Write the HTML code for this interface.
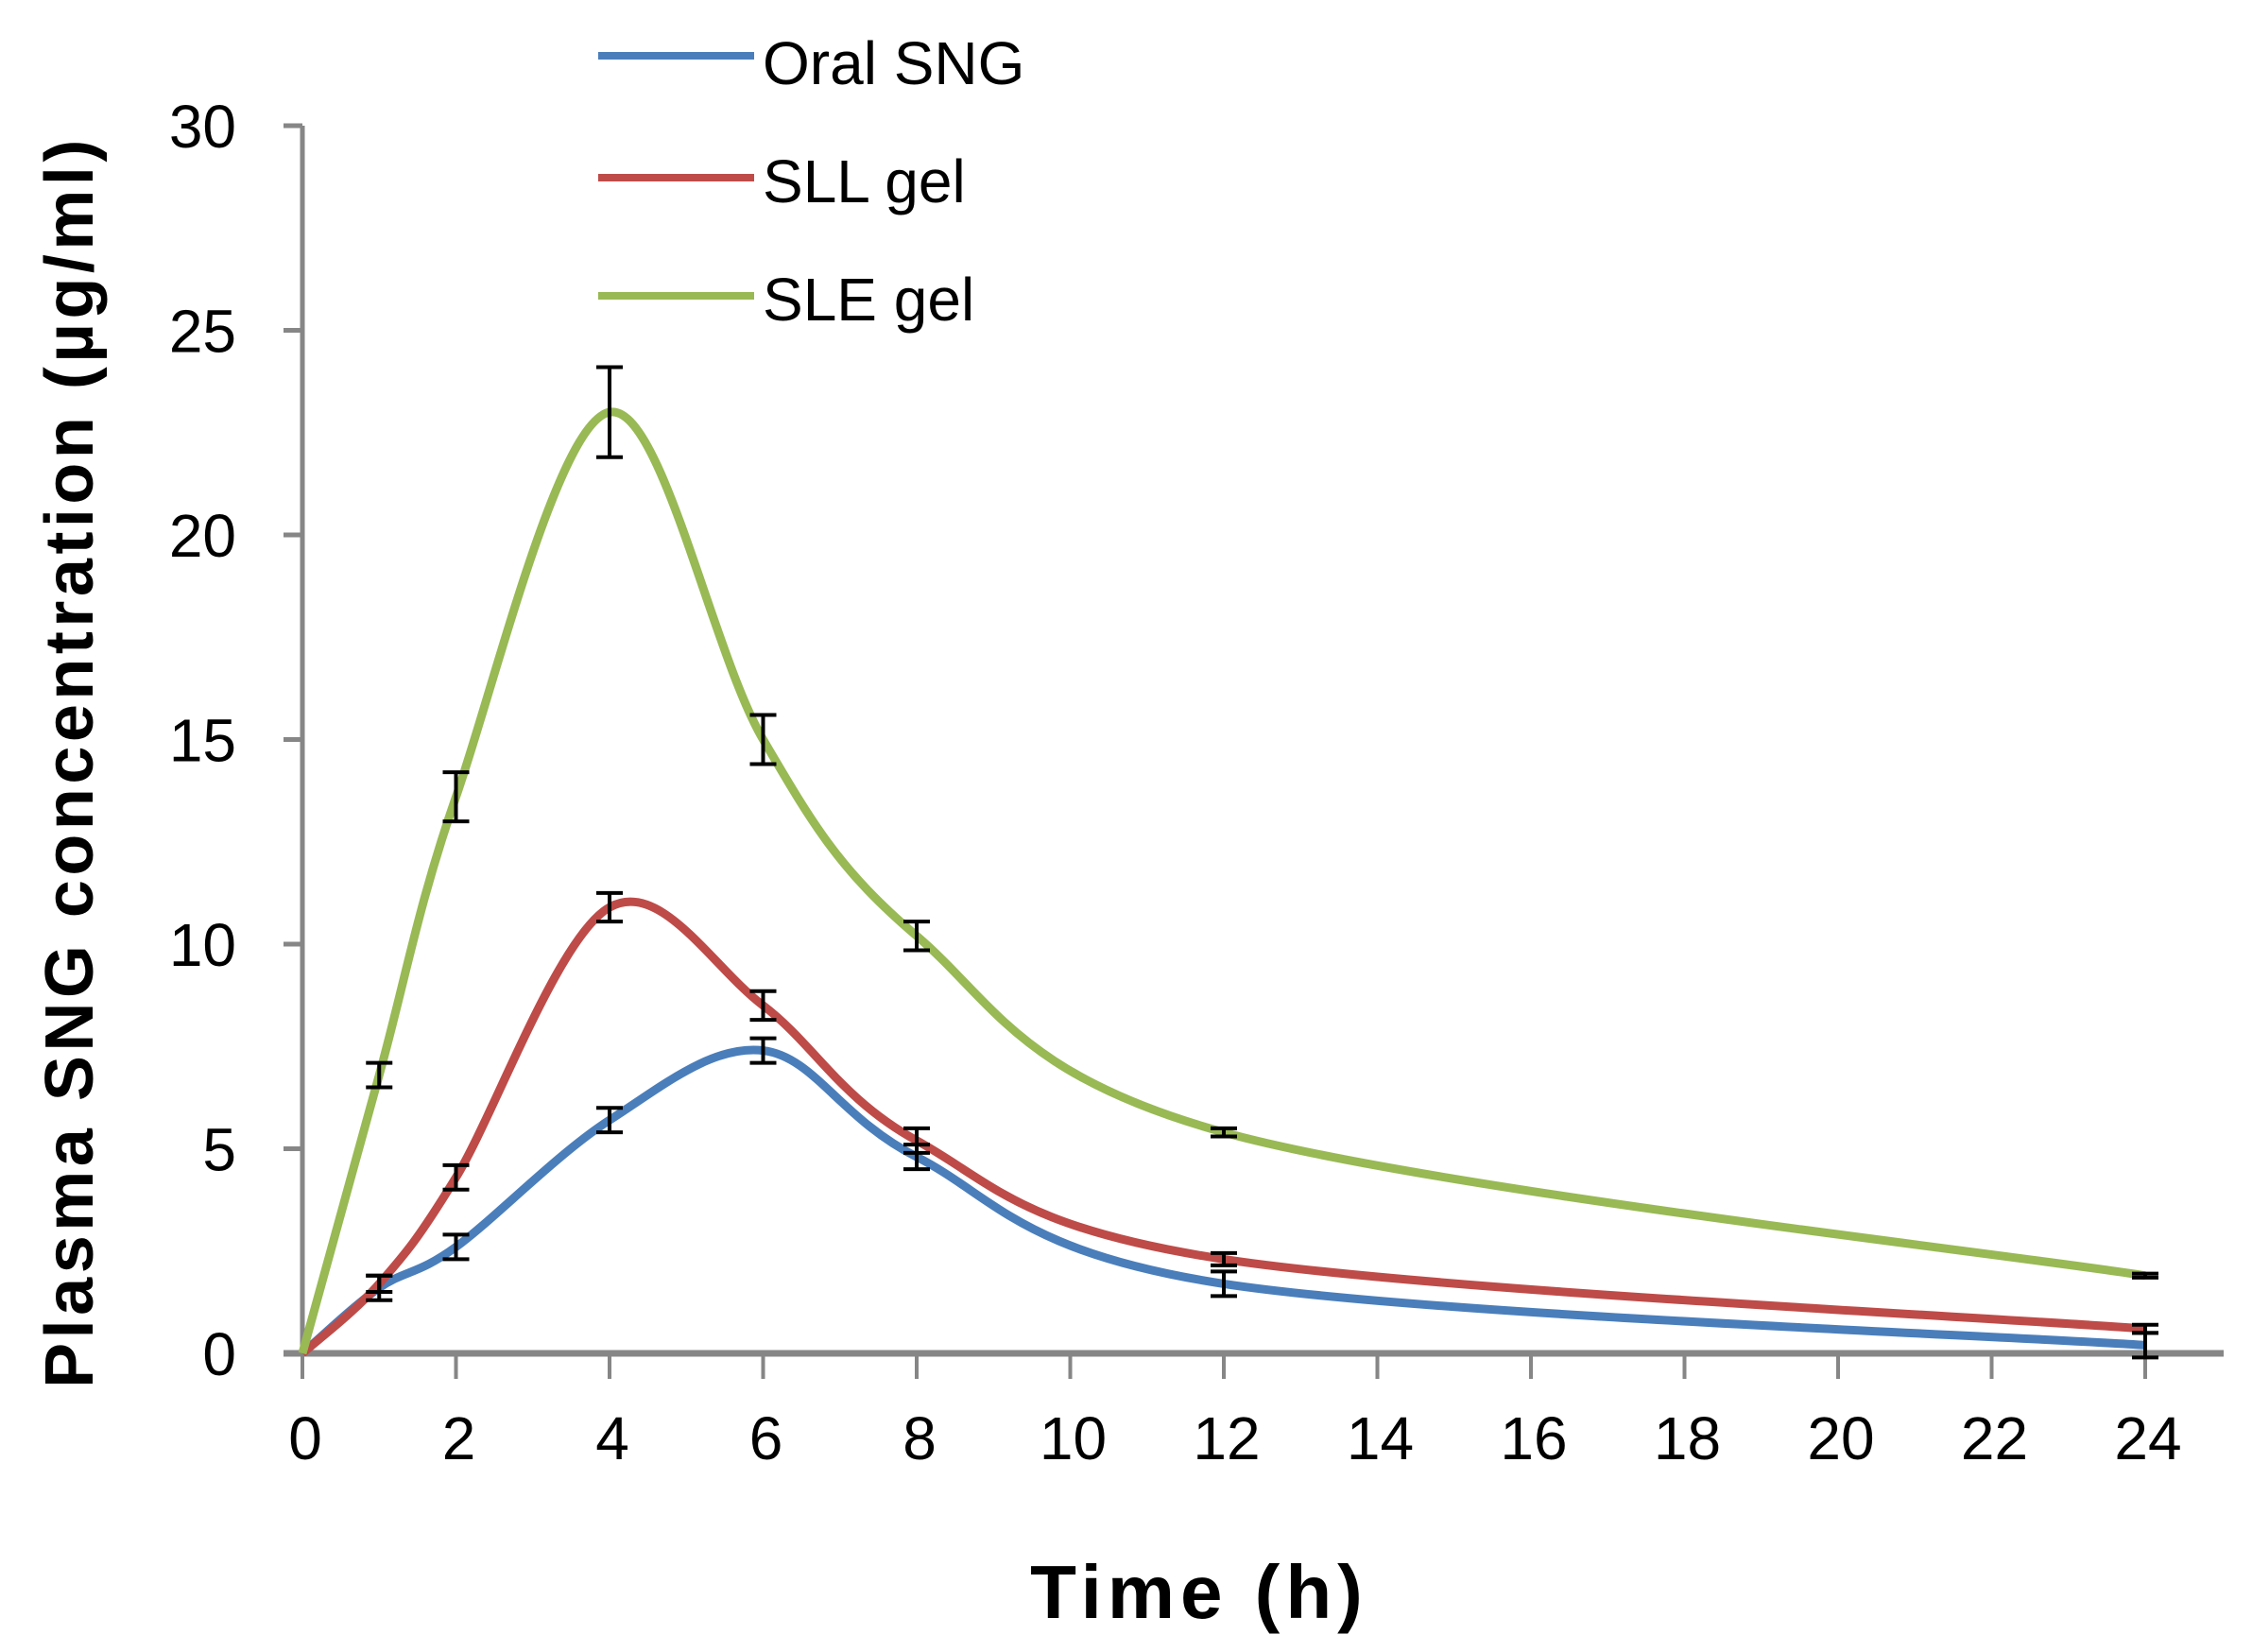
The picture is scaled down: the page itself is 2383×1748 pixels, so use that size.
<!DOCTYPE html>
<html><head><meta charset="utf-8"><style>
html,body{margin:0;padding:0;background:#fff;}
svg{display:block;}
text{font-family:"Liberation Sans Narrow","Liberation Sans",sans-serif;}
</style></head><body>
<svg id="chart" width="2383" height="1748" viewBox="0 0 2383 1748" xmlns="http://www.w3.org/2000/svg">
<g id="axes"></g>
<g id="series"></g>
<g id="errs"></g>
<text transform="translate(98,806) rotate(-90)" text-anchor="middle" font-size="72" font-weight="bold" fill="#000" letter-spacing="4.5" style="font-family:'Liberation Sans',sans-serif">Plasma SNG concentration (µg/ml)</text>
<text x="1269" y="1712" text-anchor="middle" font-size="80" font-weight="bold" fill="#000" letter-spacing="6" style="font-family:'Liberation Sans',sans-serif">Time (h)</text>
<g>
<line x1="633" y1="59" x2="798" y2="59" stroke="#4a7ebb" stroke-width="8"/>
<text x="807" y="89" font-size="64" fill="#000">Oral SNG</text>
<line x1="633" y1="188" x2="798" y2="188" stroke="#be4b48" stroke-width="8"/>
<text x="807" y="214" font-size="64" fill="#000">SLL gel</text>
<line x1="633" y1="313" x2="798" y2="313" stroke="#98b954" stroke-width="8"/>
<text x="807" y="339" font-size="64" fill="#000">SLE gel</text>
</g>
</svg>
<script>
const times=[0,1,2,4,6,8,12,24];
const oral=[0,1.6,2.6,5.7,7.4,4.8,1.7,0.2];
const oralErr=[0,0.3,0.3,0.3,0.3,0.3,0.3,0.3];
const sll=[0,1.7,4.3,10.9,8.5,5.2,2.3,0.6];
const sllErr=[0,0.2,0.3,0.35,0.35,0.3,0.15,0.1];
const sle=[0,6.8,13.6,23.0,15.0,10.2,5.4,1.9];
const sleErr=[0,0.3,0.6,1.1,0.6,0.35,0.1,0.05];
const yTicks=[0,5,10,15,20,25,30];
const xTicks=[0,2,4,6,8,10,12,14,16,18,20,22,24];
const X0=320,X1=2270,Y0=1432,Y1=133;
function sx(t){return X0+(X1-X0)*t/24;}
function sy(v){return Y0-(Y0-Y1)*v/30;}
const NS="http://www.w3.org/2000/svg";
function mk(tag,attrs,parent){const e=document.createElementNS(NS,tag);for(const k in attrs)e.setAttribute(k,attrs[k]);parent.appendChild(e);return e;}
const axes=document.getElementById('axes');
let yl=mk('line',{x1:X0,y1:Y1,x2:X0,y2:Y0,stroke:'#868686','stroke-width':5},axes);


let xl=mk('line',{x1:X0-20,y1:Y0,x2:2353,y2:Y0,stroke:'#868686','stroke-width':7},axes);


yTicks.forEach(v=>{
 let t=mk('line',{x1:X0-20,y1:sy(v),x2:X0,y2:sy(v),stroke:'#868686','stroke-width':5},axes);
 
 
 let l=mk('text',{x:250,y:sy(v)+23,'text-anchor':'end','font-size':64,fill:'#000'},axes);
 l.textContent=v;
 
 
});
xTicks.forEach(v=>{
 let t=mk('line',{x1:sx(v),y1:Y0,x2:sx(v),y2:Y0+27,stroke:'#868686','stroke-width':4},axes);
 
 
 let l=mk('text',{x:sx(v)+3,y:1544,'text-anchor':'middle','font-size':64,fill:'#000'},axes);
 l.textContent=v;
 
 
});
function smooth(vals){
 const p=times.map((t,i)=>[sx(t),sy(vals[i])]);
 let d='M'+p[0][0]+','+p[0][1];
 for(let i=0;i<p.length-1;i++){
  const p0=p[i-1]||p[i],p1=p[i],p2=p[i+1],p3=p[i+2]||p[i+1];
  const k=1/6;
  const c1=[p1[0]+(p2[0]-p0[0])*k,p1[1]+(p2[1]-p0[1])*k];
  const c2=[p2[0]-(p3[0]-p1[0])*k,p2[1]-(p3[1]-p1[1])*k];
  d+=' C'+c1[0]+','+c1[1]+' '+c2[0]+','+c2[1]+' '+p2[0]+','+p2[1];
 }
 return d;
}
const ser=document.getElementById('series');
const errs=document.getElementById('errs');
[['oral',oral,oralErr,'#4a7ebb'],['sll',sll,sllErr,'#be4b48'],['sle',sle,sleErr,'#98b954']].forEach(([n,v,e,c])=>{
 let p=mk('path',{d:smooth(v),fill:'none',stroke:c,'stroke-width':9,'stroke-linejoin':'round'},ser);
 
 
 times.forEach((t,i)=>{
  if(i===0)return;
  const x=sx(t),a=sy(v[i]+e[i]),b=sy(v[i]-e[i]);
  let g=mk('path',{d:`M${x},${a}V${b}M${x-14},${a}H${x+14}M${x-14},${b}H${x+14}`,stroke:'#000','stroke-width':4,fill:'none'},errs);
  
  
 });
});
</script>
</body></html>
